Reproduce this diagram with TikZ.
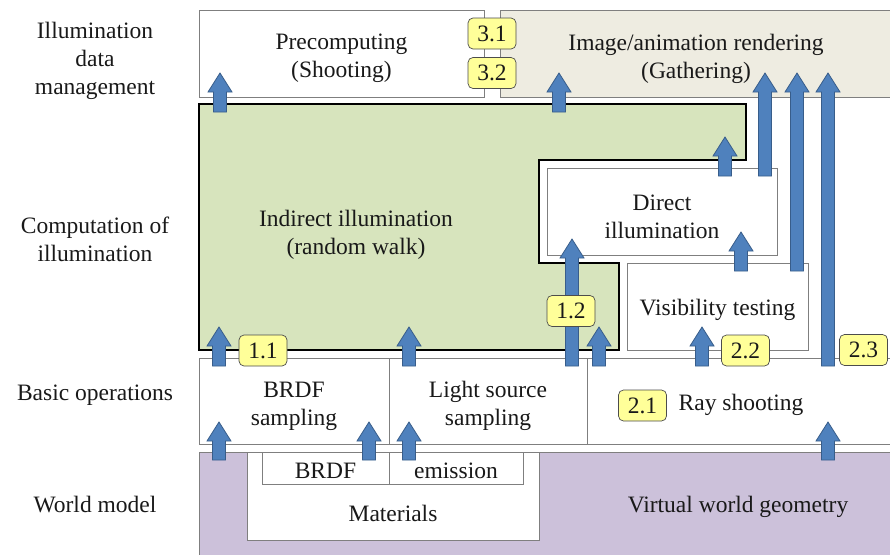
\documentclass[tikz,border=0pt]{standalone}
\usepackage{fontspec}
\setmainfont{Liberation Serif}
\definecolor{boxgray}{HTML}{7F7F7F}
\definecolor{greenfill}{HTML}{D7E4BD}
\definecolor{beigefill}{HTML}{EEECE1}
\definecolor{purplefill}{HTML}{CCC1DA}
\definecolor{arrowblue}{HTML}{4F81BD}
\definecolor{arrowedge}{HTML}{385D8A}
\definecolor{lblyellow}{HTML}{FFFF99}
\newcommand{\blockup}[4]{%
  \coordinate (#1s) at (#2,#3);
  \coordinate (#1t) at (#2,#4);
  \path[barrow] (#2-6.5,#3) -- (#2-6.5,#4+19) -- (#2-12,#4+19) -- (#1t)
     -- (#2+12,#4+19) -- (#2+6.5,#4+19) -- (#2+6.5,#3) -- cycle;}
\begin{document}
\begin{tikzpicture}[x=1pt,y=-1pt,
  every node/.style={font=\fontsize{23.5}{28}\selectfont, inner sep=0pt, align=center, text=black!90},
  box/.style={draw=boxgray, line width=0.9pt, fill=white},
  lbl/.style={draw=black!70, fill=lblyellow, rounded corners=5pt, minimum width=48pt, minimum height=31pt, line width=0.7pt},
  barrow/.style={fill=arrowblue, draw=arrowedge, line width=0.8pt},
]
\useasboundingbox[fill=white] (0,0) rectangle (890,554);

% ---- row labels
\node (rl1) at (95,61) {Illumination\\data\\management};
\node (rl2) at (95,239) {Computation of\\illumination};
\node (rl3) at (95,395) {Basic operations};
\node (rl4) at (95,505) {World model};

% ---- world model
\path[fill=purplefill, draw=boxgray, line width=0.9pt] (199,452) rectangle (900,560);
\draw[box] (247,452) rectangle (539,540);
\draw[box] (262,452) rectangle (523,484);
\draw[draw=boxgray, line width=0.9pt] (389,452) -- (389,484);
\node (brdf) at (325.5,471) {BRDF};
\node (emis) at (456,471) {emission};
\node (mat) at (393,513) {Materials};
\node (geom) at (738,507) {Virtual world geometry};

% ---- basic operations
\draw[box] (199,358) rectangle (389,444);
\draw[box] (389,358) rectangle (587,444);
\draw[box] (587,358) rectangle (900,444);
\node (brdfs) at (294,406) {BRDF\\sampling};
\node (lss) at (488,406) {Light source\\sampling};
\node (ray) at (741,405) {Ray shooting};

% ---- top row
\draw[box] (199,10) rectangle (484,97);
\draw[box, fill=beigefill] (500,10) rectangle (900,97);
\node (pre) at (341.5,58.5) {Precomputing\\(Shooting)};
\node (img) at (696,58.5) {Image/animation rendering\\(Gathering)};

% ---- computation of illumination
\path[fill=greenfill, draw=black, line width=1.5pt]
  (199,104) -- (746,104) -- (746,160) -- (539,160) -- (539,263) -- (619,263)
  -- (619,350) -- (199,350) -- cycle;
\node (ind) at (356,234.5) {Indirect illumination\\(random walk)};
\draw[box] (547,168) rectangle (777,255);
\node (dir) at (662,216.5) {Direct\\illumination};
\draw[box] (627,263) rectangle (808,350);
\node (vis) at (717.5,310) {Visibility testing};

% ---- block arrows
\blockup{a}{220}{112}{73}
\blockup{b}{559}{112}{73}
\blockup{c}{725}{176}{137}
\blockup{d}{765}{176}{73}
\blockup{e}{797}{271}{73}
\blockup{f}{828}{366}{73}
\blockup{g}{741}{271}{232}
\blockup{h}{572}{366}{239}
\blockup{i}{599}{366}{327}
\blockup{j}{409}{366}{327}
\blockup{k}{219}{366}{327}
\blockup{l}{702}{366}{327}
\blockup{m}{219}{460}{422}
\blockup{n}{369}{460}{422}
\blockup{o}{409}{460}{422}
\blockup{p}{828}{460}{422}

% ---- number labels
\node[lbl] (l31) at (492,33.5) {3.1};
\node[lbl] (l32) at (492,73) {3.2};
\node[lbl] (l11) at (263,350.5) {1.1};
\node[lbl] (l12) at (571,311) {1.2};
\node[lbl] (l21) at (642.5,405.5) {2.1};
\node[lbl] (l22) at (745.5,350.5) {2.2};
\node[lbl] (l23) at (863.5,350) {2.3};
\end{tikzpicture}
\end{document}
